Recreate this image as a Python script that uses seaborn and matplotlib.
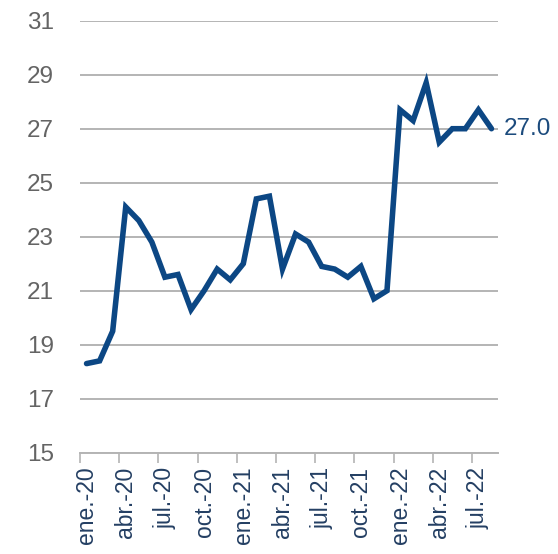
import numpy as np
import pandas as pd
import matplotlib
matplotlib.use("Agg")
import matplotlib.pyplot as plt
import seaborn as sns
from matplotlib.ticker import FixedLocator

# Serie mensual ene-2020 a ago-2022
meses = ["ene.", "feb.", "mar.", "abr.", "may.", "jun.",
         "jul.", "ago.", "sep.", "oct.", "nov.", "dic."]
anios = ["20", "21", "22"]
valores = [18.3, 18.4, 19.5, 24.1, 23.6, 22.8, 21.5, 21.6, 20.3, 21.0,
           21.8, 21.4, 22.0, 24.4, 24.5, 21.8, 23.1, 22.8, 21.9, 21.8,
           21.5, 21.9, 20.7, 21.0, 27.7, 27.3, 28.7, 26.5, 27.0, 27.0,
           27.7, 27.0]
yticks = list(range(15, 32, 2))

etiquetas = [f"{m}-{a}" for a in anios for m in meses][:len(valores)]
df = pd.DataFrame({"pos": np.arange(len(valores)), "valor": valores,
                   "fecha": etiquetas})

sns.set_style("white")
plt.rcParams["font.family"] = ["Liberation Sans", "DejaVu Sans"]

azul = "#0c4784"
gris_texto = "#646464"

fig = plt.figure(figsize=(5.58, 5.54), dpi=100)
ax = fig.add_axes([0.1434, 0.1829, 0.7491, 0.7797])

sns.lineplot(data=df, x="pos", y="valor", ax=ax, color=azul, linewidth=4.0,
             solid_joinstyle="miter")

ax.set_xlim(-0.5, len(valores) - 0.5)
ax.set_ylim(15, 31)
ax.set_yticks(yticks)
ax.set_yticklabels([str(t) for t in yticks])
ax.yaxis.grid(True, color="#b4b4b4", linewidth=1.4)
ax.set_axisbelow(True)

# etiquetas cada tres meses, marcas entre categorias
mayores = df["pos"][::3]
ax.set_xticks(mayores)
ax.set_xticklabels(df["fecha"][::3], rotation=90, va="top", ha="center")
ax.xaxis.set_minor_locator(FixedLocator(np.arange(-0.5, len(valores) - 1, 3)))
ax.tick_params(axis="x", which="major", length=0, pad=10, labelsize=16.5,
               labelcolor="#243f63")
ax.tick_params(axis="x", which="minor", length=7, width=1.2, color="#b4b4b4",
               direction="out", bottom=True)
ax.tick_params(axis="y", length=0, pad=19, labelsize=17.5, labelcolor=gris_texto)

for lado in ["left", "right", "top"]:
    ax.spines[lado].set_visible(False)
ax.spines["bottom"].set_color("#b4b4b4")
ax.spines["bottom"].set_linewidth(1.4)
ax.set_xlabel("")
ax.set_ylabel("")

ultimo = df.iloc[-1]
ax.annotate(f"{ultimo['valor']:.1f}", xy=(ultimo["pos"], ultimo["valor"]),
            xytext=(9, 0), textcoords="offset points", va="center",
            ha="left", fontsize=17.5, color="#1c4b7d", annotation_clip=False)

fig.savefig("out.png", dpi=100)
